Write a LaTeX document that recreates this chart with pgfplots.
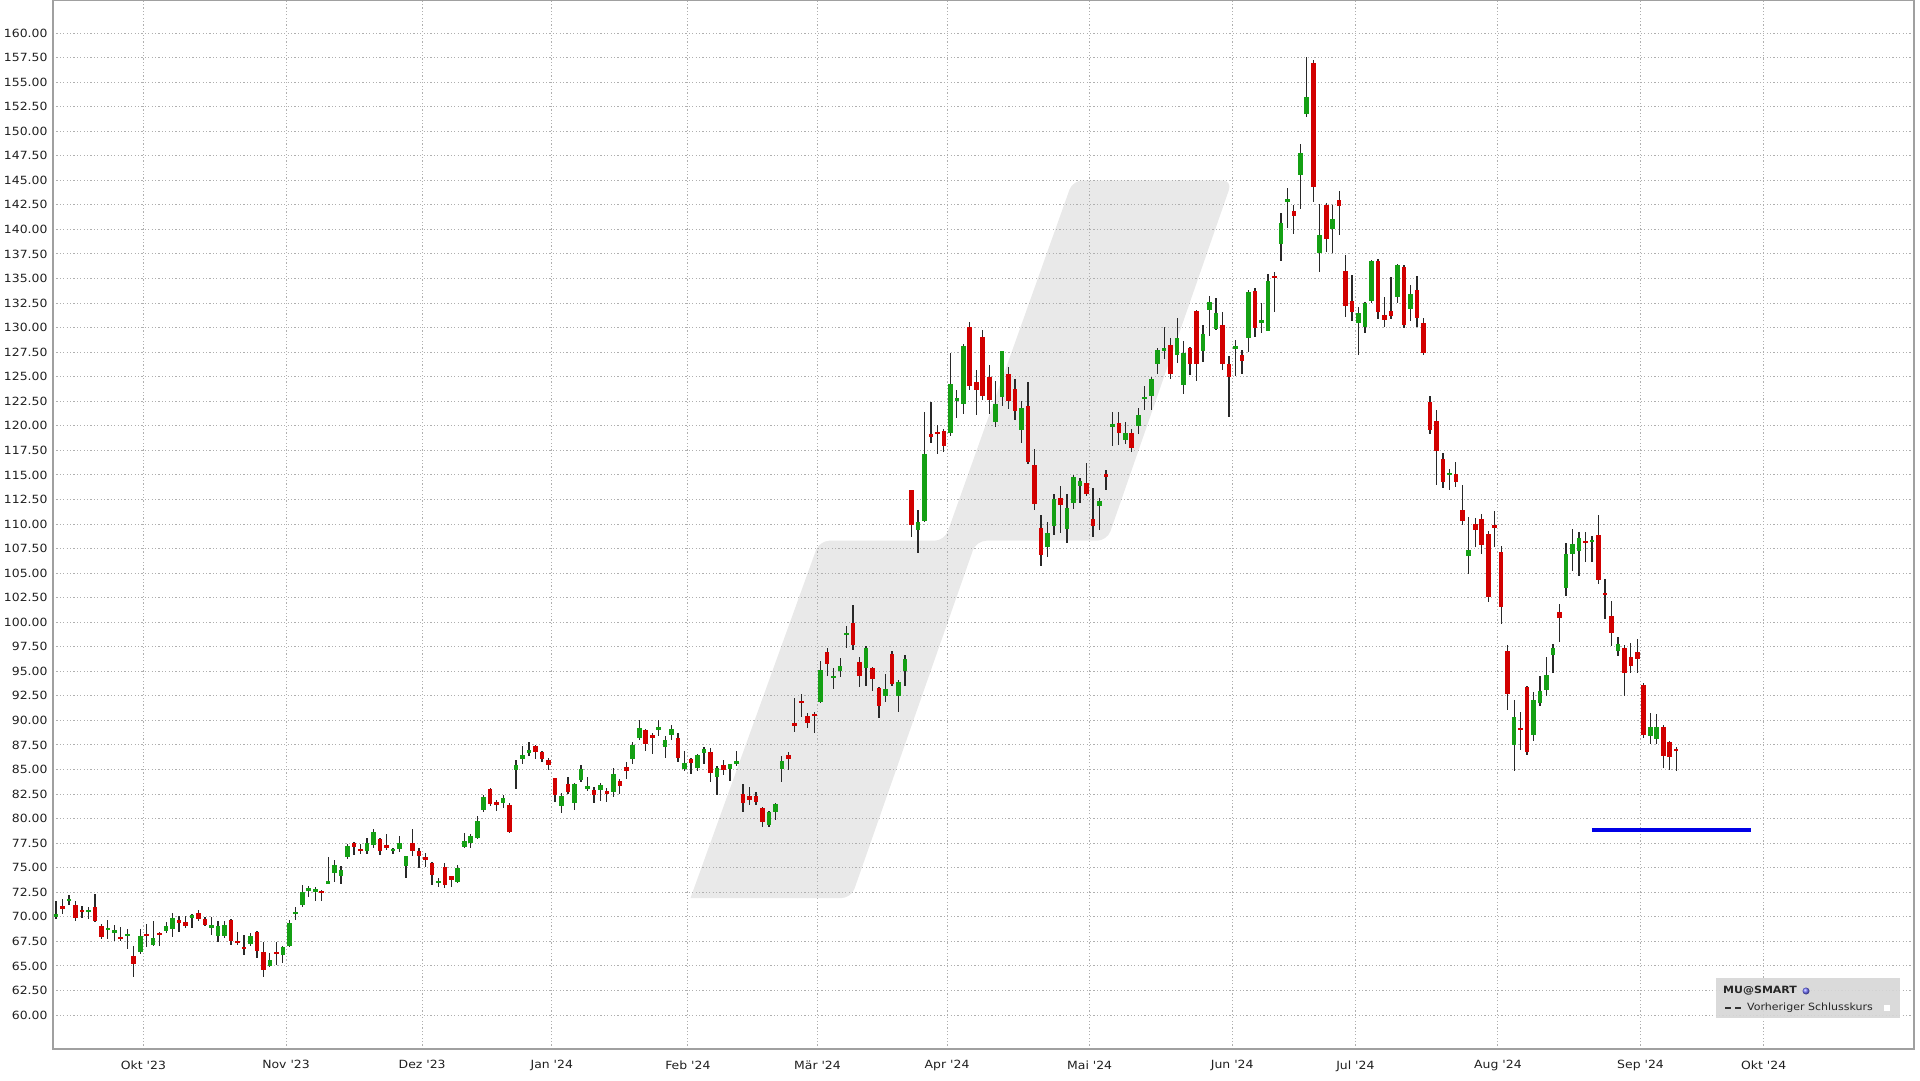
\documentclass[border=0pt]{standalone}
\usepackage{pgfplots}
\pgfplotsset{compat=1.18}
\usepackage{pgfplotstable}
\usepackage{fontspec}
\setmainfont{DejaVu Sans}
\newfontfamily\tickfont[FakeStretch=1.1]{DejaVu Sans}
\definecolor{cRed}{RGB}{210,0,0}
\definecolor{cGreen}{RGB}{20,160,20}
\definecolor{cWick}{RGB}{40,40,40}
\definecolor{cGrid}{RGB}{175,175,175}
\definecolor{cWater}{RGB}{233,233,233}
\definecolor{cAxis}{RGB}{160,160,160}
\definecolor{cLeg}{RGB}{214,214,214}
\definecolor{cBlue}{RGB}{0,0,230}

\pgfplotstableread{
k O H L C
0 69.97 71.63 69.76 70.24
2 71.6 72.24 71.22 71.8
5 70.55 71.0 69.8 70.7
8 68.7 69.7 67.7 68.8
9 68.34 69.15 67.56 68.64
11 68.05 68.75 66.7 68.2
13 66.37 68.75 66.2 68.07
15 67.15 69.6 67.0 67.8
17 68.58 69.5 68.34 69.08
18 68.81 70.37 67.9 69.93
21 69.86 70.27 68.9 70.2
24 68.95 70.0 68.14 69.05
25 68.0 69.6 67.46 69.08
26 68.0 69.6 67.8 69.19
30 67.22 68.4 67.05 68.0
33 64.95 66.27 64.85 65.63
35 66.1 67.05 65.25 66.88
36 66.98 69.69 66.88 69.42
37 70.3 71.0 69.66 70.45
38 71.19 73.22 71.02 72.54
39 72.7 73.1 72.0 72.85
40 72.6 73.07 71.66 72.75
42 73.45 76.1 73.4 73.55
43 74.46 75.78 73.51 75.3
44 74.19 75.2 73.34 74.8
45 76.05 77.4 75.88 77.2
48 76.66 78.0 76.39 77.5
49 77.33 78.92 77.06 78.65
52 76.75 77.06 76.39 76.9
53 76.89 78.24 76.62 77.5
54 75.2 76.22 73.95 76.15
59 73.5 73.92 73.01 73.65
62 73.51 75.3 73.45 74.97
63 77.13 78.51 76.96 77.74
64 77.47 78.41 77.06 78.24
65 78.07 80.27 77.9 79.76
66 80.84 82.36 80.68 82.2
69 81.62 82.36 81.11 82.13
71 85.0 85.95 82.97 85.44
72 86.11 87.43 85.57 86.45
73 86.69 87.8 86.35 87.03
78 81.25 82.57 80.54 82.33
80 81.55 83.58 80.88 83.51
81 83.92 85.47 83.75 85.03
82 83.1 84.19 82.84 83.25
84 82.91 83.58 81.76 83.41
86 82.67 85.2 82.23 84.59
89 86.05 87.8 85.54 87.5
90 88.24 90.0 88.0 89.19
93 89.1 90.0 88.41 89.25
94 87.3 88.41 86.22 88.0
95 88.51 89.53 87.97 89.09
97 85.03 86.89 84.8 85.71
99 85.2 86.62 84.86 86.49
100 86.72 87.3 85.54 87.13
102 84.19 85.37 82.43 85.2
104 85.03 85.61 83.85 85.54
105 85.65 86.89 85.37 85.8
110 79.36 80.81 79.12 80.71
111 80.64 81.59 79.9 81.49
112 85.03 86.39 83.78 85.88
118 91.89 96.08 91.8 95.17
120 94.35 95.34 93.21 94.5
121 95.07 96.35 94.43 95.51
122 98.75 99.66 97.36 98.9
125 95.34 97.53 93.55 97.36
128 92.47 94.73 91.86 93.21
130 92.53 94.16 90.88 93.92
131 95.0 96.69 93.55 96.25
133 109.38 111.42 107.01 110.19
134 110.3 121.42 110.19 117.14
138 119.28 127.42 118.94 124.3
139 122.6 123.69 120.8 122.75
140 122.26 128.33 121.25 128.09
145 120.4 124.53 119.86 122.23
146 122.91 127.65 121.99 127.58
149 119.62 122.57 118.26 121.82
153 107.69 110.19 106.64 109.04
154 109.79 113.01 108.87 112.5
156 109.45 113.01 108.03 111.59
157 112.09 115.04 111.55 114.77
158 113.86 114.7 112.09 114.36
161 111.82 112.6 109.38 112.33
163 119.95 121.38 117.92 120.1
165 118.54 120.41 118.14 119.29
167 120.0 121.83 119.12 121.15
168 122.75 124.03 121.59 122.9
169 123.02 124.98 121.59 124.81
170 126.34 127.97 125.32 127.76
171 127.7 130.07 126.85 127.85
173 127.19 130.95 126.44 128.98
174 124.19 128.68 123.21 127.43
177 127.67 130.3 126.49 129.36
178 131.79 133.24 129.19 132.57
179 129.86 133.0 129.76 131.49
182 127.9 128.75 125.03 128.05
184 128.92 133.82 127.5 133.58
186 130.47 132.47 129.46 130.78
187 129.7 135.51 129.7 134.76
189 138.55 141.66 136.79 140.65
190 142.85 144.2 140.17 143.05
192 145.59 148.7 142.1 147.79
193 151.75 157.57 151.41 153.44
195 137.64 142.54 135.67 139.46
197 140.07 142.44 137.64 141.09
201 130.5 132.12 127.21 131.51
202 130.02 132.63 129.41 132.53
203 132.73 136.86 132.46 136.79
207 133.13 136.52 132.46 136.35
209 131.85 134.39 130.7 133.47
215 115.0 115.58 113.47 115.15
218 106.76 110.69 104.9 107.37
225 87.47 92.12 84.9 90.36
228 88.49 92.86 87.95 92.05
229 91.78 94.49 91.44 93.03
230 93.14 96.46 92.53 94.59
231 96.69 97.81 94.83 97.37
233 103.47 108.05 102.69 106.97
234 106.93 109.47 105.24 107.95
235 107.27 109.14 104.73 108.56
237 108.2 108.73 106.12 108.35
241 97.02 98.47 96.51 97.76
246 88.37 90.75 87.63 89.29
247 88.1 90.64 87.63 89.29
}\greendata

\pgfplotstableread{
k O H L C
1 71.0 71.8 70.27 70.9
3 71.22 71.63 69.53 69.83
4 70.7 71.12 69.93 70.55
6 71.05 72.3 69.5 69.6
7 69.08 69.25 67.73 67.9
10 67.9 69.0 67.55 67.75
12 65.97 67.05 63.83 65.19
14 68.25 69.25 66.95 68.05
16 68.35 68.5 67.0 68.2
19 69.6 70.1 68.47 69.45
20 69.49 70.1 68.9 69.08
22 70.37 70.68 69.53 69.76
23 69.76 70.03 69.08 69.19
27 69.69 69.76 67.12 67.49
28 67.5 68.47 67.12 67.35
29 66.9 68.14 66.1 66.75
31 68.5 68.57 65.76 66.54
32 66.37 67.46 63.83 64.58
34 66.4 67.46 65.09 66.2
41 72.6 72.74 71.66 72.4
46 77.5 77.57 76.28 77.13
47 76.9 77.4 76.39 76.75
50 77.9 78.07 76.28 76.72
51 77.25 78.41 76.82 77.1
55 77.47 78.99 76.22 76.72
56 76.72 76.96 74.97 76.15
57 76.05 76.55 75.03 75.85
58 75.47 75.54 73.28 74.29
60 75.1 75.44 72.91 73.24
61 74.12 74.19 73.01 73.75
67 83.04 83.1 81.28 81.45
68 81.6 81.86 80.78 81.45
70 81.35 81.62 78.58 78.65
74 87.43 87.53 86.11 86.76
75 86.76 86.86 85.74 86.08
76 85.95 86.15 84.97 85.44
77 84.09 84.15 81.66 82.43
79 83.51 84.29 82.5 82.67
83 82.94 83.18 81.55 82.43
85 82.75 83.07 81.66 82.6
87 83.85 84.02 82.5 83.34
88 85.27 85.81 84.02 84.86
91 88.99 89.09 86.89 87.64
92 88.48 88.75 86.55 88.18
96 88.24 88.75 85.81 86.15
98 86.05 86.15 84.53 85.64
101 86.79 87.23 83.68 84.63
103 85.47 85.98 84.43 84.97
106 82.5 83.51 80.64 81.59
107 82.26 83.18 81.39 81.89
108 82.26 82.74 81.39 81.66
109 81.08 81.15 79.12 79.63
113 86.45 86.79 84.97 86.05
114 89.7 92.3 88.82 89.5
115 92.0 92.74 90.37 91.8
116 90.44 90.78 89.26 89.7
117 90.65 90.84 88.68 90.5
119 96.93 97.36 94.49 95.74
123 99.9 101.76 97.13 97.64
124 95.91 96.45 93.41 94.56
126 95.34 95.44 93.04 94.22
127 93.31 93.41 90.27 91.45
129 96.79 97.03 93.55 93.75
132 113.42 113.5 108.7 109.89
135 119.1 122.43 118.2 118.9
136 119.35 120.13 117.08 119.2
137 119.45 119.69 117.31 117.99
141 130.03 130.57 123.62 124.09
142 124.43 125.72 121.14 123.69
143 129.04 129.72 122.6 123.01
144 124.97 126.16 121.25 122.67
147 125.31 125.99 121.75 122.57
148 123.75 124.77 120.57 121.48
150 121.99 124.43 116.13 116.3
151 116.06 117.65 111.42 111.99
152 109.62 110.87 105.72 106.81
155 112.67 113.92 109.11 111.92
159 114.19 116.23 112.84 113.01
160 110.47 113.69 108.7 109.79
162 115.05 115.48 113.45 114.85
164 120.24 121.42 118.03 119.22
166 119.29 119.66 117.36 117.76
172 128.27 128.98 124.75 125.32
175 127.94 128.0 125.2 126.25
176 131.72 131.8 124.56 126.25
180 130.27 131.55 125.64 126.25
181 126.25 127.16 120.91 124.97
183 127.26 127.74 125.3 126.59
185 133.68 133.99 129.02 129.97
188 135.25 135.71 131.62 135.1
191 141.87 142.44 139.56 141.36
194 156.99 157.23 142.78 144.3
196 142.51 142.71 137.7 139.06
198 142.95 143.96 139.4 142.37
199 135.74 137.36 131.04 132.22
200 132.73 135.4 130.7 131.61
204 136.79 137.03 130.83 131.61
205 131.27 133.13 130.02 130.77
206 131.71 135.17 130.83 131.17
208 136.18 136.35 129.92 130.26
210 133.88 135.27 130.02 130.94
211 130.43 130.94 127.21 127.45
212 122.46 123.03 119.17 119.58
213 120.53 121.61 113.98 117.47
214 116.63 117.2 113.71 114.25
216 115.1 116.29 113.81 114.25
217 111.44 113.98 109.85 110.32
219 109.98 110.59 107.64 109.41
220 110.49 111.03 106.97 107.88
221 108.97 109.24 102.02 102.56
222 109.85 111.34 107.61 109.65
223 107.14 107.81 99.81 101.51
224 97.1 97.64 91.03 92.69
226 89.25 90.86 87.03 89.05
227 93.37 93.54 86.46 86.8
232 101.0 101.85 97.95 100.42
236 108.25 109.14 106.12 108.05
238 108.9 110.93 103.92 104.32
239 102.95 104.41 100.31 102.8
240 100.64 102.2 97.53 98.95
242 97.36 97.63 92.51 94.81
243 96.44 97.86 94.81 95.59
244 96.92 98.31 94.81 96.27
245 93.63 93.8 88.2 88.54
248 89.29 89.56 85.15 86.34
249 87.76 87.86 84.92 86.27
250 87.05 87.25 84.81 86.9
}\reddata

\begin{document}
\begin{tikzpicture}[x=1pt,y=1pt]
\begin{axis}[
  at={(53pt,31pt)}, anchor=south west,
  scale only axis, width=1861pt, height=1049pt,
  xmin=-0.46, xmax=286.7, ymin=56.54, ymax=163.36,
  set layers,
  axis line style={draw=cAxis, line width=1.2pt},
  grid=major,
  grid style={draw=cGrid, line width=1pt, dash pattern=on 1.2pt off 2.2pt},
  major tick length=0pt,
  xtick={13.5,35.5,56.5,76.5,97.5,117.5,137.5,159.5,181.5,200.5,222.5,244.5,263.5},
  xticklabels={Okt '23,Nov '23,Dez '23,Jan '24,Feb '24,Mär '24,Apr '24,Mai '24,Jun '24,Jul '24,Aug '24,Sep '24,Okt '24},
  ytick={60,62.5,65,67.5,70,72.5,75,77.5,80,82.5,85,87.5,90,92.5,95,97.5,100,102.5,105,107.5,110,112.5,115,117.5,120,122.5,125,127.5,130,132.5,135,137.5,140,142.5,145,147.5,150,152.5,155,157.5,160},
  /pgf/number format/assume math mode=true,
  yticklabel style={xshift=-2pt, /pgf/number format/fixed, /pgf/number format/fixed zerofill, /pgf/number format/precision=2, /pgf/number format/1000 sep={}},
  tick label style={font=\tickfont\fontsize{11.3pt}{13pt}\selectfont, text=black!88},
  xticklabel style={yshift=-8pt},
]
% background watermark
\addplot[on layer=axis background, fill=cWater, draw=none, rounded corners=10pt, forget plot]
  coordinates {(97.9,71.9) (122.7,71.9) (142.0,108.3) (162.2,108.3) (181.5,145.0) (156.9,145.0) (137.1,108.3) (117.8,108.3) (97.9,71.9)};
% wicks
\addplot[forget plot, draw=none, error bars/.cd, y dir=both, y explicit, error mark=none,
  error bar style={draw=cWick, line width=1.3pt}]
  table[x=k, y expr={(\thisrow{H}+\thisrow{L})/2}, y error expr={(\thisrow{H}-\thisrow{L})/2}] {\greendata};
\addplot[forget plot, draw=none, error bars/.cd, y dir=both, y explicit, error mark=none,
  error bar style={draw=cWick, line width=1.3pt}]
  table[x=k, y expr={(\thisrow{H}+\thisrow{L})/2}, y error expr={(\thisrow{H}-\thisrow{L})/2}] {\reddata};
% bodies
\addplot[forget plot, draw=none, error bars/.cd, y dir=both, y explicit, error mark=none,
  error bar style={draw=cGreen, line width=4.6pt}]
  table[x=k, y expr={(\thisrow{O}+\thisrow{C})/2}, y error expr={max(abs(\thisrow{C}-\thisrow{O})/2,0.12)}] {\greendata};
\addplot[forget plot, draw=none, error bars/.cd, y dir=both, y explicit, error mark=none,
  error bar style={draw=cRed, line width=4.6pt}]
  table[x=k, y expr={(\thisrow{O}+\thisrow{C})/2}, y error expr={max(abs(\thisrow{C}-\thisrow{O})/2,0.12)}] {\reddata};
% blue line
\addplot[forget plot, draw=cBlue, line width=3.5pt] coordinates {(237.0,78.82) (261.6,78.82)};
\end{axis}
% legend box
\fill[cLeg, opacity=0.9] (1716,62) rectangle (1900,102);
\node[anchor=west, inner sep=0pt, text=black!85, font={\tickfont\fontsize{10pt}{12pt}\selectfont\bfseries}] at (1723,89) {MU@SMART};
\shade[ball color=blue!55] (1806,89) circle (3.5);
\draw[black!80, line width=1.3pt] (1725,72) -- (1731,72) (1735,72) -- (1741,72);
\node[anchor=west, inner sep=0pt, text=black!85, font={\tickfont\fontsize{10pt}{12pt}\selectfont}] at (1747,72) {Vorheriger Schlusskurs};
\fill[white] (1884,69) rectangle (1890,75);
\pgfresetboundingbox
\path[use as bounding box] (0,0) rectangle (1920,1080);
\end{tikzpicture}
\end{document}
